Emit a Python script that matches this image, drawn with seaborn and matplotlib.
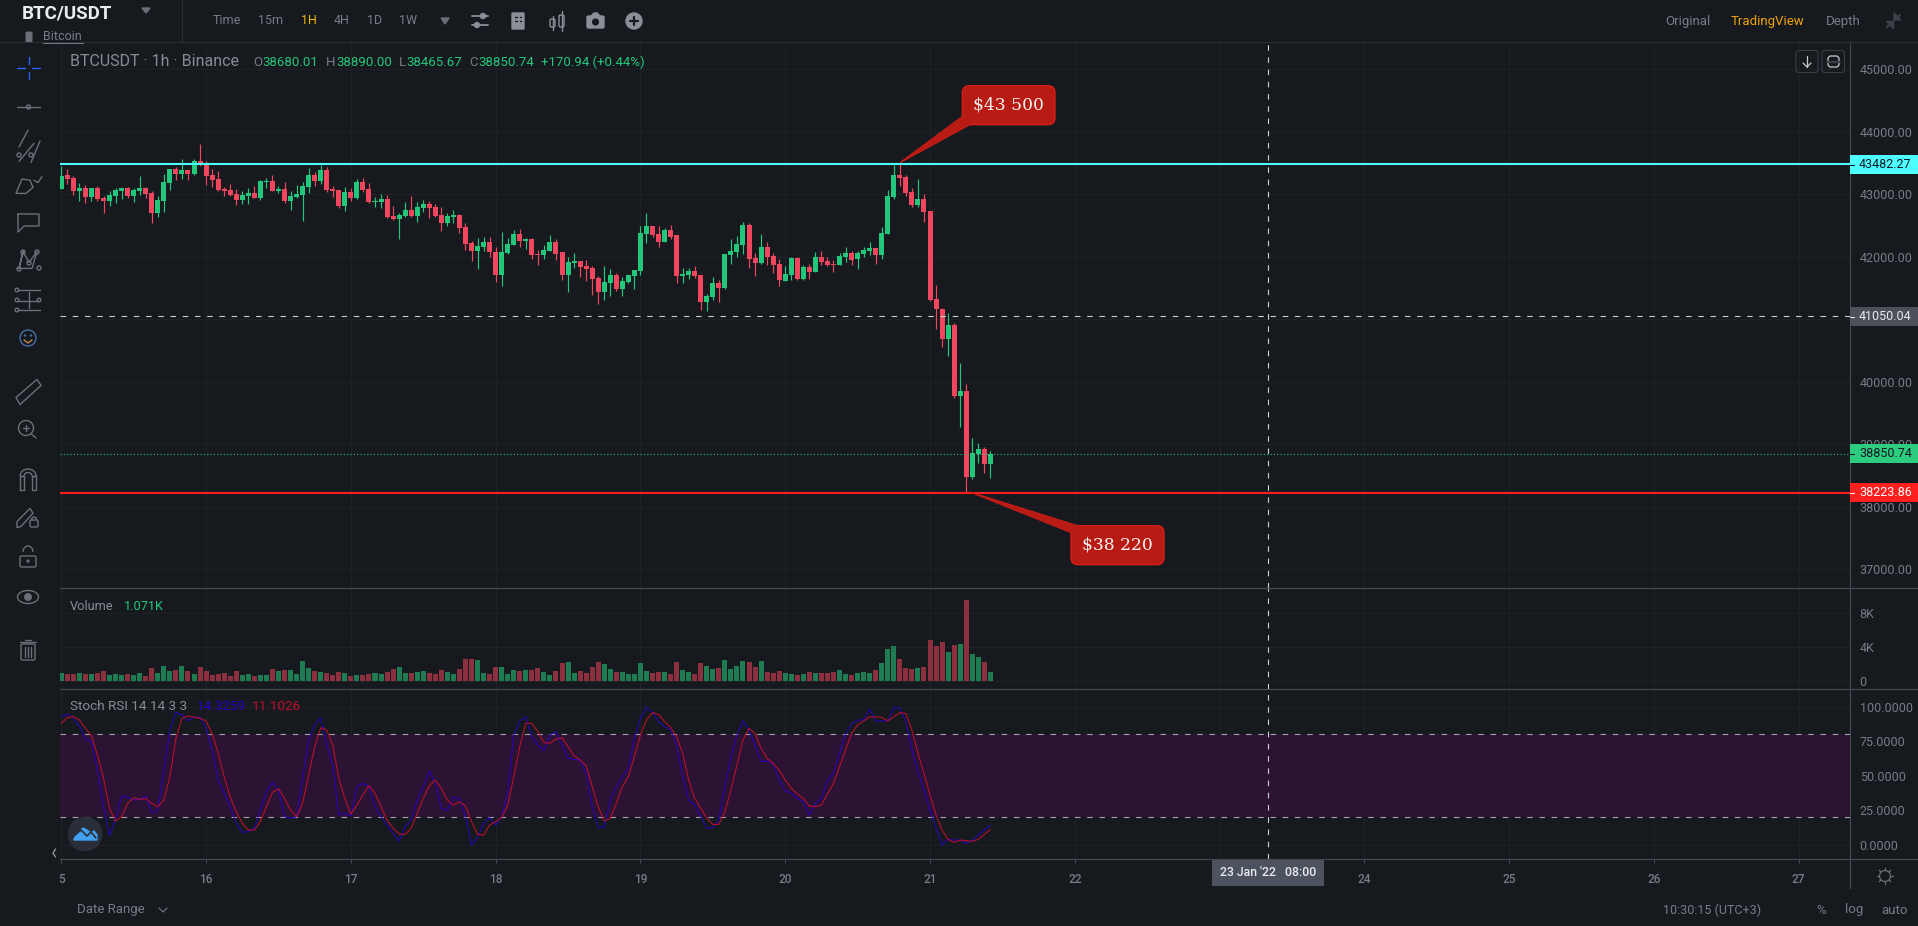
import matplotlib
matplotlib.use("Agg")
import matplotlib.pyplot as plt
import matplotlib.patches as mpatches
import seaborn as sns
import numpy as np

# hourly candles from 15 Jan
opens = [43085, 43308, 43261, 43053, 43101, 42957, 43101, 42941, 42894, 42973, 43053, 43101, 42973, 43053, 43101, 43021,
         42702, 42894, 43181, 43404, 43324, 43388, 43324, 43532, 43484, 43308, 43245, 43085, 43069, 43005, 42910, 42973,
         43021, 42941, 43197, 43213, 43053, 43085, 42894, 42957, 42989, 43117, 43308, 43213, 43388, 43085, 43069, 42814,
         43037, 42941, 43197, 43085, 42878, 42878, 42926, 42654, 42606, 42654, 42750, 42654, 42782, 42846, 42798, 42670,
         42543, 42638, 42670, 42479, 42223, 42096, 42160, 42239, 42080, 41713, 42064, 42192, 42367, 42255, 42287, 42048,
         42032, 42096, 42239, 42080, 41713, 41904, 41936, 41856, 41824, 41665, 41441, 41585, 41713, 41489, 41601, 41697,
         41777, 42367, 42495, 42367, 42239, 42431, 42351, 41697, 41713, 41777, 41713, 41282, 41362, 41585, 41505, 42032,
         42080, 42192, 42511, 41984, 41904, 42160, 42016, 41888, 41617, 41713, 41984, 41649, 41840, 41761, 42000, 41936,
         41888, 41872, 42000, 42064, 41968, 42048, 42096, 42144, 42032, 42367, 42957, 43308, 43277, 43037, 42830, 42926,
         42734, 41330, 41170, 40676, 40915, 39766, 39846, 38473, 38840, 38920, 38680.01]
highs = [43452, 43404, 43293, 43181, 43149, 43101, 43133, 42973, 43053, 43101, 43101, 43117, 43101, 43293, 43117, 43053,
         42973, 43324, 43404, 43436, 43564, 43388, 43564, 43803, 43532, 43404, 43372, 43117, 43165, 43085, 43053, 43101,
         43133, 43229, 43261, 43308, 43133, 43197, 43053, 43149, 43197, 43420, 43356, 43468, 43436, 43133, 43069, 43117,
         43101, 43245, 43261, 43181, 42957, 43005, 42989, 42814, 42702, 42878, 42973, 42878, 42910, 42894, 42846, 42798,
         42702, 42750, 42686, 42543, 42255, 42303, 42319, 42319, 42160, 42399, 42303, 42431, 42447, 42303, 42303, 42112,
         42192, 42351, 42287, 42080, 42000, 42064, 41936, 41952, 41856, 41697, 41856, 41809, 41745, 41681, 41713, 41793,
         42495, 42702, 42495, 42495, 42463, 42511, 42351, 41824, 41824, 41856, 41713, 41410, 41681, 41633, 42048, 42287,
         42335, 42558, 42543, 42064, 42367, 42239, 42064, 41968, 41856, 42000, 42000, 41872, 41888, 42080, 42096, 42000,
         41952, 42064, 42160, 42096, 42096, 42160, 42239, 42144, 42479, 43069, 43468, 43500, 43308, 43101, 43245, 43005,
         42734, 41553, 41186, 41106, 40947, 40293, 39957, 39096, 39016, 38952, 38890.00]
lows = [43085, 43165, 42989, 42894, 42862, 42894, 42894, 42702, 42814, 42862, 42926, 42941, 42878, 42989, 42941, 42543,
        42638, 42718, 43069, 43229, 43245, 43229, 43308, 43452, 43149, 43117, 43053, 42973, 42973, 42830, 42846, 42846,
        42941, 42910, 43101, 43053, 43021, 42862, 42750, 42941, 42574, 43021, 43133, 43165, 43037, 42957, 42782, 42734,
        42894, 42926, 43037, 42862, 42798, 42782, 42622, 42590, 42287, 42638, 42638, 42558, 42718, 42622, 42638, 42415,
        42495, 42543, 42383, 42112, 41936, 41809, 42096, 42000, 41601, 41537, 42048, 42192, 42160, 42128, 41968, 41872,
        41968, 42096, 41952, 41633, 41441, 41824, 41681, 41617, 41394, 41250, 41314, 41378, 41457, 41378, 41585, 41489,
        41713, 42223, 42319, 42160, 42239, 42287, 41585, 41585, 41649, 41665, 41154, 41138, 41314, 41282, 41489, 41888,
        42000, 42048, 41824, 41697, 41888, 41872, 41745, 41537, 41617, 41633, 41633, 41633, 41649, 41761, 41872, 41856,
        41761, 41872, 41920, 41872, 41809, 42000, 42032, 41888, 41968, 42367, 42926, 43133, 42973, 42798, 42798, 42558,
        41298, 40851, 40548, 40404, 39734, 39271, 38223.86, 38441, 38697, 38537, 38465.67]
closes = [43293, 43245, 43053, 43101, 42957, 43101, 42926, 42894, 42989, 43069, 43101, 42973, 43069, 43101, 43005, 42702,
          42910, 43197, 43404, 43324, 43388, 43324, 43532, 43484, 43293, 43229, 43069, 43053, 42989, 42910, 42989, 43021,
          42941, 43213, 43213, 43053, 43085, 42894, 42973, 43005, 43133, 43308, 43213, 43388, 43069, 43053, 42814, 43037,
          42941, 43197, 43069, 42878, 42894, 42926, 42638, 42606, 42670, 42750, 42654, 42798, 42846, 42782, 42654, 42543,
          42654, 42670, 42463, 42207, 42096, 42176, 42239, 42080, 41713, 42080, 42207, 42367, 42255, 42287, 42032, 42032,
          42112, 42239, 42048, 41713, 41920, 41936, 41840, 41809, 41649, 41441, 41601, 41713, 41489, 41617, 41713, 41793,
          42383, 42495, 42351, 42239, 42431, 42319, 41697, 41729, 41777, 41697, 41282, 41378, 41585, 41505, 42048, 42096,
          42207, 42511, 41968, 41904, 42160, 42000, 41872, 41633, 41729, 41984, 41649, 41840, 41761, 42000, 41920, 41872,
          41872, 42016, 42064, 41952, 42064, 42112, 42144, 42032, 42383, 42973, 43308, 43261, 43021, 42830, 42926, 42718,
          41314, 41170, 40676, 40915, 39766, 39846, 38473, 38856, 38920, 38680, 38850.74]
volumes = [890, 775, 775, 890, 775, 775, 890, 1125, 660, 775, 660, 775, 660, 890, 545, 1475,
           890, 1710, 1125, 1240, 1710, 1125, 775, 1590, 1125, 660, 775, 890, 545, 1125, 660, 775,
           545, 660, 660, 1360, 1125, 1240, 1240, 775, 2290, 1475, 1125, 1010, 890, 660, 1010, 890,
           545, 660, 660, 775, 890, 775, 1010, 1360, 1590, 890, 890, 1010, 1125, 890, 775, 1240,
           1010, 775, 1360, 2520, 2520, 2405, 890, 775, 1590, 1590, 775, 1240, 1125, 1240, 1240, 1475,
           1010, 660, 1125, 2055, 2175, 890, 1125, 890, 1590, 2175, 1940, 1360, 1010, 1010, 775, 775,
           2055, 1125, 890, 1010, 1010, 775, 2175, 1240, 1010, 775, 2055, 1710, 1360, 1475, 2405, 1360,
           1710, 2290, 2175, 1590, 2290, 1010, 890, 1125, 890, 775, 660, 775, 1010, 890, 890, 890,
           1010, 1240, 775, 660, 890, 1010, 890, 1240, 2055, 3685, 4150, 2520, 1475, 1360, 1475, 1590,
           4850, 4150, 4620, 3335, 4270, 4385, 9505, 3105, 2755, 2175, 1071]
stoch_k = [92.5, 94.7, 91.6, 86.0, 76.6, 74.7, 54.2, 27.7, 6.7, 19.3, 35.4, 34.5, 32.5, 33.0, 35.4, 23.4,
           24.8, 54.2, 83.1, 95.9, 94.0, 89.9, 92.5, 92.3, 84.4, 68.7, 47.0, 37.4, 27.7, 15.7, 9.2, 9.6,
           12.1, 25.3, 38.6, 45.1, 39.8, 20.5, 19.3, 20.5, 48.2, 75.9, 86.8, 92.1, 72.3, 57.8, 21.7, 22.9,
           21.0, 42.2, 44.6, 42.2, 27.7, 20.5, 14.5, 8.4, 2.9, 13.3, 18.1, 32.5, 42.2, 53.5, 45.1, 26.5,
           25.3, 34.5, 33.7, 20.5, 0.0, 5.5, 15.7, 19.8, 14.5, 20.5, 37.4, 79.5, 89.7, 92.8, 78.3, 72.3,
           68.2, 79.5, 81.9, 72.3, 62.7, 61.9, 61.5, 51.8, 27.7, 12.8, 12.8, 32.5, 42.2, 49.4, 55.4, 77.1,
           91.6, 99.3, 95.9, 89.2, 85.6, 83.6, 72.3, 49.4, 32.5, 28.9, 20.5, 12.1, 12.5, 18.1, 42.2, 63.9,
           79.5, 89.9, 83.1, 72.3, 60.3, 60.7, 58.6, 47.0, 39.0, 37.8, 33.7, 31.3, 21.7, 30.1, 33.7, 46.5,
           51.8, 66.3, 80.7, 87.5, 90.4, 90.4, 98.3, 89.7, 89.7, 89.7, 99.3, 98.8, 89.2, 68.7, 53.0, 39.8,
           25.3, 12.1, 0.2, 4.1, 3.6, 3.6, 1.2, 3.1, 7.2, 10.8, 14.3259]
stoch_d = [88.0, 92.1, 92.8, 90.4, 84.4, 79.0, 65.1, 48.2, 26.5, 17.4, 20.5, 30.1, 34.2, 33.0, 33.7, 30.1,
           27.7, 32.5, 49.4, 77.1, 91.6, 93.3, 92.5, 91.6, 89.7, 80.7, 66.3, 49.4, 34.9, 24.1, 15.7, 10.8,
           10.8, 16.9, 27.7, 38.1, 40.7, 33.7, 25.3, 20.5, 30.1, 50.6, 71.1, 84.8, 83.1, 72.3, 48.2, 33.7,
           22.4, 28.9, 36.2, 42.9, 37.4, 27.7, 18.1, 12.1, 8.0, 7.7, 12.1, 22.9, 33.7, 42.7, 47.0, 41.0,
           32.5, 28.9, 31.3, 28.2, 16.9, 7.7, 7.2, 14.5, 16.9, 20.0, 28.9, 49.4, 71.1, 88.0, 88.0, 81.9,
           74.2, 73.5, 76.6, 77.6, 71.1, 64.6, 61.5, 57.4, 42.2, 27.7, 17.4, 19.3, 30.1, 42.2, 49.4, 63.9,
           79.5, 90.4, 95.7, 94.5, 89.2, 85.1, 78.3, 66.3, 47.0, 33.7, 26.5, 19.3, 14.9, 14.9, 24.1, 39.8,
           57.8, 75.9, 84.4, 80.7, 69.9, 62.7, 59.0, 54.2, 47.0, 41.0, 36.9, 33.7, 28.2, 27.7, 28.9, 36.9,
           44.6, 56.6, 68.7, 80.7, 86.8, 89.7, 92.8, 92.5, 92.3, 89.7, 92.8, 95.7, 95.0, 83.1, 66.3, 51.8,
           36.2, 21.7, 10.8, 4.1, 1.9, 3.6, 3.1, 2.7, 4.1, 7.7, 11.1026]

# 23 and 41000.00 sit under the crosshair / price tags in the screenshot
day_labels = ["5", "16", "17", "18", "19", "20", "21", "22", "", "24", "25", "26", "27"]
price_ticks = [37000, 38000, 39000, 40000, 41000, 42000, 43000, 44000, 45000]
price_tick_labels = ["37000.00", "38000.00", "39000.00", "40000.00", "", "42000.00", "43000.00", "44000.00", "45000.00"]
volume_ticks = [0, 4000, 8000]
volume_tick_labels = ["0", "4K", "8K"]
stoch_ticks = [0, 25, 50, 75, 100]
resistance = 43482.27
middle = 41050.04
last_close = 38850.74
support = 38223.86
crosshair_hour = 200

BG = "#161a1e"
GRID = "#1e2227"
SEP = "#454952"
TXT = "#777c86"
GREEN = "#23c77c"
RED = "#f1465e"
YELLOW = "#f0b90b"
ICON = "#6b7078"

W, H = 1918, 926
sns.set_theme(style="dark", rc={"figure.facecolor": BG, "axes.facecolor": BG, "savefig.facecolor": BG})
plt.rcParams["font.family"] = ["Roboto", "DejaVu Sans"]

fig = plt.figure(figsize=(W / 100, H / 100), dpi=100)
hours = np.arange(len(closes))
up = np.array(closes) >= np.array(opens)
day_ticks = np.arange(len(day_labels)) * 24
X_LIM = (-0.215, 296.5)


def pane(top, bottom, ylim, ticks, labels):
    ax = fig.add_axes([60 / W, 1 - bottom / H, (1850 - 60) / W, (bottom - top) / H])
    ax.set_facecolor(BG)
    ax.set_xlim(*X_LIM)
    ax.set_ylim(*ylim)
    ax.yaxis.tick_right()
    ax.set_yticks(ticks)
    ax.set_yticklabels(labels, fontsize=9, color=TXT, ha="left")
    ax.set_xticks(day_ticks)
    ax.tick_params(axis="y", length=3, width=0.8, color=SEP, pad=4, right=True, left=False)
    ax.tick_params(axis="x", length=0, labelbottom=False)
    ax.grid(True, color=GRID, lw=0.8)
    ax.set_axisbelow(True)
    sns.despine(ax=ax, left=True, top=True, bottom=True, right=False)
    ax.spines["right"].set_color(SEP)
    ax.spines["right"].set_linewidth(0.8)
    ax.axvline(crosshair_hour, color="#cfd2d6", lw=0.8, dashes=(5, 6), zorder=6)
    return ax


# price pane
ax_price = pane(43, 588, (36699, 45419), price_ticks, price_tick_labels)
candle_colors = [GREEN if u else RED for u in up]
ax_price.vlines(hours, lows, highs, colors=candle_colors, lw=0.85, zorder=3)
ax_price.bar(hours, np.abs(np.array(closes) - np.array(opens)), bottom=np.minimum(opens, closes),
             width=0.83, color=candle_colors, linewidth=0, zorder=3)
ax_price.axhline(resistance, color="#4dffff", lw=1.5, zorder=4)
ax_price.axhline(middle, color="#c8cbcf", lw=0.8, dashes=(5, 6), zorder=4)
ax_price.axhline(last_close, color=GREEN, lw=0.8, dashes=(1, 2), zorder=4)
ax_price.axhline(support, color="#ff1f1f", lw=1.5, zorder=4)

# volume pane
ax_vol = pane(588, 689, (-980, 10938), volume_ticks, volume_tick_labels)
sns.barplot(x=hours, y=volumes, hue=np.where(up, "up", "down"), palette={"up": "#1e7b52", "down": "#8c3040"},
            native_scale=True, dodge=False, legend=False, width=0.83, saturation=1, linewidth=0, ax=ax_vol, zorder=3)
ax_vol.set_xlim(*X_LIM)
ax_vol.set_ylim(-980, 10938)
ax_vol.set_xlabel("")
ax_vol.set_ylabel("")
ax_vol.set_xticks(day_ticks)
ax_vol.tick_params(axis="x", length=0, labelbottom=False)
ax_vol.grid(True, color=GRID, lw=0.8)

# stoch rsi pane
ax_rsi = pane(689, 859, (-10.1, 112.8), stoch_ticks, ["%.4f" % s for s in stoch_ticks])
ax_rsi.axhspan(20, 80, color="#2c1333", lw=0, zorder=1)
ax_rsi.axhline(80, color="#a99fa9", lw=0.8, dashes=(5, 6), zorder=2)
ax_rsi.axhline(20, color="#a99fa9", lw=0.8, dashes=(5, 6), zorder=2)
sns.lineplot(x=hours, y=stoch_k, color="#2a00c8", lw=0.7, ax=ax_rsi, zorder=3)
sns.lineplot(x=hours, y=stoch_d, color="#c0102c", lw=0.75, ax=ax_rsi, zorder=4)
ax_rsi.set_xlim(*X_LIM)
ax_rsi.set_xticks(day_ticks)
ax_rsi.set_xticklabels(day_labels, fontsize=8.6, color=TXT, fontweight="medium")
ax_rsi.tick_params(axis="x", length=3, width=0.8, color=SEP, pad=7, labelbottom=True, bottom=True)
ax_rsi.grid(True, color=GRID, lw=0.8, zorder=0)

# everything around the panes goes on a pixel overlay
ui = fig.add_axes([0, 0, 1, 1], zorder=10)
ui.set_xlim(0, W)
ui.set_ylim(H, 0)
ui.axis("off")


def label(x, y, s, color=TXT, size=9, ha="left", **kw):
    ui.text(x, y, s, color=color, fontsize=size, ha=ha, va="center", **kw)


def seg(xs, ys, color=ICON, lw=1.0):
    ui.plot(xs, ys, color=color, lw=lw, solid_capstyle="round")


def ring(x, y, r, color=ICON, lw=1.0, fill=False):
    ui.add_patch(mpatches.Circle((x, y), r, fc=color if fill else "none", ec=color, lw=lw))


def box(x0, y0, x1, y1, color=ICON, lw=1.0, fill=False, round_=1.5):
    ui.add_patch(mpatches.FancyBboxPatch((x0, y0), x1 - x0, y1 - y0, boxstyle="round,pad=0,rounding_size=%s" % round_,
                                         fc=color if fill else "none", ec=color, lw=lw))


# separators
seg([0, W], [42, 42], "#2a2e35", 0.8)
seg([182, 182], [0, 42], "#2a2e35", 0.8)
seg([60, W], [588, 588], SEP, 0.9)
seg([60, W], [689, 689], SEP, 0.9)
seg([60, W], [859, 859], SEP, 0.9)
seg([1850, 1850], [859, 888], SEP, 0.9)

# header
label(22, 13, "BTC/USDT", "#eaecef", 13.5, fontweight="bold")
ui.fill([142, 150, 146], [8, 8, 13], color=ICON)
box(26, 32, 32, 42, ICON, 0.7, True, 1)
label(43, 37, "Bitcoin", TXT, 9)
seg([43, 83], [43, 43], TXT, 0.7)
for x, s, c in [(227, "Time", TXT), (271, "15m", TXT), (309, "1H", YELLOW), (341.5, "4H", TXT), (375, "1D", TXT), (408.5, "1W", TXT)]:
    label(x, 21, s, c, 9, ha="center")
ui.fill([441, 449, 445], [18, 18, 24], color=ICON)
# sliders, building, candles, camera, plus
seg([472, 488], [16, 16], "#8a8f98", 1.3)
seg([472, 488], [25, 25], "#8a8f98", 1.3)
ring(483, 16, 2.5, "#8a8f98", 1, True)
ring(477, 25, 2.5, "#8a8f98", 1, True)
box(512, 13, 524, 29, "#8a8f98", 1, True, 0.5)
for yy in (17, 21):
    seg([515, 516.5], [yy, yy], BG, 1)
    seg([519.5, 521], [yy, yy], BG, 1)
box(550, 19, 555, 27, "#8a8f98", 1)
seg([552.5, 552.5], [16, 30], "#8a8f98", 1)
box(559, 15, 564, 27, "#8a8f98", 1)
seg([561.5, 561.5], [11, 31], "#8a8f98", 1)
box(587, 16, 604, 28, "#8a8f98", 1, True)
ui.fill([591, 594, 597, 600], [16, 13, 13, 16], color="#8a8f98")
ring(595.5, 22, 3, BG, 0.8, True)
ring(634, 21, 8, "#8a8f98", 1, True)
seg([630, 638], [21, 21], BG, 1.6)
seg([634, 634], [17, 25], BG, 1.6)

label(1688, 21, "Original", TXT, 9.5, ha="center")
label(1768, 21, "TradingView", "#f0a30b", 9.5, ha="center")
label(1843, 21, "Depth", TXT, 9.5, ha="center")
seg([1887, 1892], [27, 22], "#3c4048", 1.6)
seg([1894, 1900], [20, 15], "#3c4048", 1.6)
ui.fill([1886, 1893, 1893], [21, 21, 28], color="#3c4048")
ui.fill([1894, 1901, 1894], [13, 20, 20], color="#3c4048")

# chart buttons
box(1796, 50.5, 1818, 72.5, "#3a3e46", 0.8, round_=3)
box(1822, 50.5, 1844.5, 72.5, "#3a3e46", 0.8, round_=3)
seg([1807, 1807], [56, 67], "#c8cbcf", 0.9)
seg([1803, 1807, 1811], [63, 67, 63], "#c8cbcf", 0.9)
box(1828, 56, 1839, 67, "#c8cbcf", 0.9, round_=3)
seg([1827, 1840], [61.5, 61.5], "#3a3e46", 1.6)

# legends
label(70, 62, "BTCUSDT · 1h · Binance", "#878c95", 11.5)
for x, s, c in [(253, "O", TXT), (262, "38680.01", GREEN), (325.5, "H", TXT), (336, "38890.00", GREEN), (399, "L", TXT),
                (406, "38465.67", GREEN), (469, "C", TXT), (478.5, "38850.74", GREEN), (541, "+170.94 (+0.44%)", GREEN)]:
    label(x, 62.5, s, c, 9.5)
label(70, 606, "Volume", "#878c95", 9.2)
label(124, 606, "1.071K", GREEN, 9.2)
label(70, 707, "Stoch RSI 14 14 3 3", "#878c95", 9.7)
label(197, 707, "14.3259", "#2a00c8", 9.7)
label(252, 707, "11.1026", "#c0102c", 9.7)

# price tags on the right axis
for (y0, y1, c, tc, s) in [(155, 173.5, "#4dffff", "#131722", "43482.27"), (307, 325.7, "#4c505a", "#e8eaed", "41050.04"),
                           (444, 463, "#2dcc7f", "#131722", "38850.74"), (483, 501.7, "#ff1f1f", "#ffffff", "38223.86")]:
    ui.add_patch(mpatches.Rectangle((1850, y0), W - 1850, y1 - y0, fc=c, ec="none"))
    seg([1850, 1854], [(y0 + y1) / 2 + 0.4, (y0 + y1) / 2 + 0.4], tc, 0.8)
    label(1859, (y0 + y1) / 2, s, tc, 9)

# crosshair date tag
ui.add_patch(mpatches.Rectangle((1212, 859), 112, 27, fc="#4c525e", ec="none"))
label(1268, 873, "23 Jan '22   08:00", "#e8eaed", 8.8, ha="center", fontweight="medium")


def callout(x0, y0, x1, y1, tail, text):
    fill, edge = "#b71b13", "#e01f18"
    ui.add_patch(mpatches.Polygon(tail, closed=True, fc=fill, ec=edge, lw=0.8))
    ui.add_patch(mpatches.FancyBboxPatch((x0, y0), x1 - x0, y1 - y0, boxstyle="round,pad=0,rounding_size=7", fc=fill, ec=edge, lw=0.9))
    ui.add_patch(mpatches.Polygon(tail, closed=True, fc=fill, ec="none"))
    ui.text((x0 + x1) / 2, (y0 + y1) / 2 - 0.5, text, color="#f5f5f5", fontsize=12.3, family="DejaVu Serif", ha="center", va="center")


callout(962.3, 85.7, 1055, 124.7, [(900, 162.7), (963, 116), (971, 124)], "$43 500")
callout(1071, 525.7, 1164, 564.7, [(970, 492), (1080, 526.5), (1072, 533)], "$38 220")

# bottom bar
label(77, 910, "Date Range", TXT, 9.5)
seg([159, 163, 167], [908, 912, 908], TXT, 0.8)
label(1663, 910, "10:30:15 (UTC+3)", TXT, 9)
label(1821, 910, "%", TXT, 9.5, ha="center")
label(1854, 910, "log", TXT, 9.5, ha="center")
label(1894, 910, "auto", TXT, 9.5, ha="center")
ring(1885, 876, 5.5, ICON, 0.9)
for a in np.deg2rad(np.arange(0, 360, 45)):
    seg([1885 + 6 * np.cos(a), 1885 + 8 * np.cos(a)], [876 + 6 * np.sin(a), 876 + 8 * np.sin(a)], ICON, 0.9)
seg([55.5, 53, 55.5], [849, 853, 857], "#9aa0a8", 0.9)

# tradingview logo bubble
ring(85, 834, 17, "#2a2e39", 0.5, True)
ui.fill([74, 78, 83, 87, 91, 94, 97, 97, 74], [839, 833, 828, 830, 833, 831, 835, 840, 840], color="#42a0f0")
seg([75, 81, 87, 91, 96], [835, 830, 836, 832, 838], "#2a2e39", 1.2)

# left toolbar, icons sketched around their own centre then placed
STRETCH = 1.2


def place(ys, old, new):
    return [new + (y - old) * STRETCH for y in ys]


def tool_seg(xs, ys, old, new, color=ICON):
    seg(xs, place(ys, old, new), color, 1)


def tool_poly(pts, old, new):
    xs = [p[0] for p in pts]
    ui.add_patch(mpatches.Polygon(list(zip(xs, place([p[1] for p in pts], old, new))), closed=True, fc="none", ec=ICON, lw=1))


tool_seg([28.5, 28.5], [59, 65], 68, 68, "#2962ff")
tool_seg([28.5, 28.5], [71, 77], 68, 68, "#2962ff")
seg([17, 25], [68, 68], "#2962ff", 1)
seg([32, 40], [68, 68], "#2962ff", 1)

seg([17, 40], [107, 107])
ring(28.5, 107, 2)

for a, b in [((19, 133), (28, 119)), ((19, 145), (34, 130)), ((31, 146), (40, 128))]:
    tool_seg([a[0], b[0]], [a[1], b[1]], 133, 147)
ring(19, 155, 2)
ring(31, 155, 2)

tool_poly([(16, 165), (22, 153), (30, 154), (33, 160), (26, 165)], 158, 185)
tool_seg([34, 38, 42], [154, 156, 151], 158, 185)

tool_seg([18, 18, 24, 39, 39, 18], [182, 197, 192, 192, 182, 182], 189.5, 223)

tool_seg([19, 23, 29, 37, 32, 19, 23], [227, 213, 222, 213, 227, 227, 213], 220, 260)
for px, py in [(19, 269), (23, 252), (29, 263), (37, 252), (39, 268)]:
    ring(px, py, 2)

for yy in (244, 253, 261):
    tool_seg([18, 40], [yy, yy], 252.5, 300)
tool_seg([28.5, 28.5], [246, 259], 252.5, 300)
ring(17, 290, 1.8)
ring(17, 300, 1.8)
ring(17, 310, 1.8)
ring(39, 300, 1.8)

ring(28, 338, 8, "#4a6fa5", 1)
seg([24, 28, 32], [340, 343, 340], "#c08a4a", 1)
ring(25, 335.5, 0.6, "#4a6fa5", 0.8, True)
ring(31, 335.5, 0.6, "#4a6fa5", 0.8, True)

tool_poly([(16, 336), (37, 321), (41, 326), (20, 342)], 331.5, 392)

ring(26, 428, 7.5)
seg([31.5, 36], [434, 438])
seg([23, 29], [428, 428])
seg([26, 26], [425, 431])

seg([20, 20, 24, 24], [490, 476, 476, 490])
seg([32, 32, 36, 36], [490, 476, 476, 490])
seg([20, 24], [490, 490])
seg([32, 36], [490, 490])
ui.add_patch(mpatches.Arc((28, 476), 16, 14, theta1=180, theta2=360, ec=ICON, lw=1))
ui.add_patch(mpatches.Arc((28, 476), 8, 7, theta1=180, theta2=360, ec=ICON, lw=1))

tool_poly([(17, 434), (30, 423), (33, 427), (21, 438), (17, 439)], 431, 518)
box(30, 520, 38, 527)
ui.add_patch(mpatches.Arc((34, 520), 5, 6, theta1=180, theta2=360, ec=ICON, lw=1))

box(20, 556, 36, 567)
ui.add_patch(mpatches.Arc((28, 552), 10, 12, theta1=180, theta2=360, ec=ICON, lw=1))
ring(28, 561, 1.2, ICON, 0.6, True)

ui.add_patch(mpatches.Ellipse((28, 597), 21, 13, fc="none", ec=ICON, lw=1))
ring(28, 597, 3.5, ICON, 0.6, True)

box(21, 644, 35, 660)
seg([20, 36], [642, 642])
seg([25, 31], [640, 640])
for xx in (25, 28, 31):
    seg([xx, xx], [647, 657])

fig.savefig("out.png", dpi=100, facecolor=BG)
